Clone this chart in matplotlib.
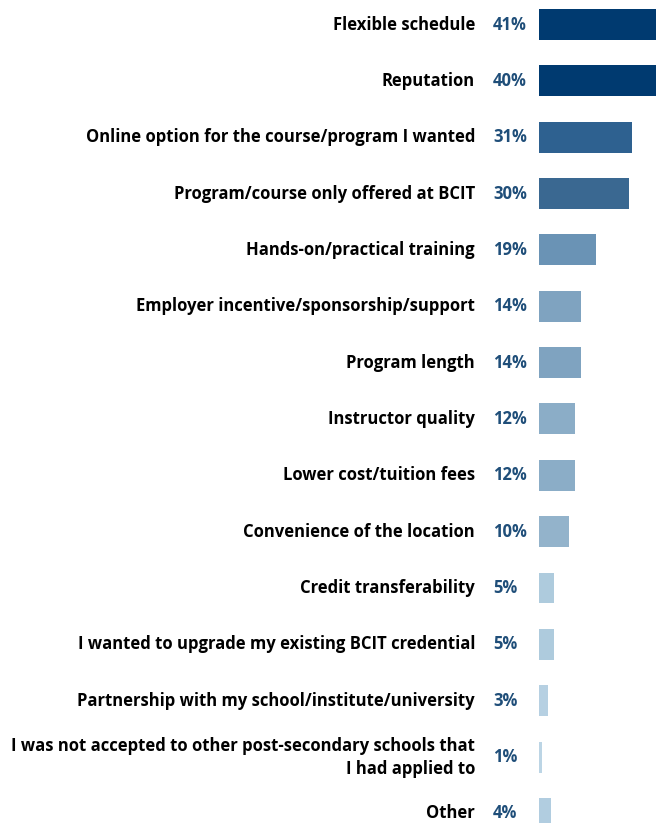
import matplotlib
matplotlib.use("Agg")
import matplotlib.pyplot as plt

categories = [
    "Flexible schedule",
    "Reputation",
    "Online option for the course/program I wanted",
    "Program/course only offered at BCIT",
    "Hands-on/practical training",
    "Employer incentive/sponsorship/support",
    "Program length",
    "Instructor quality",
    "Lower cost/tuition fees",
    "Convenience of the location",
    "Credit transferability",
    "I wanted to upgrade my existing BCIT credential",
    "Partnership with my school/institute/university",
    "I was not accepted to other post-secondary schools that\nI had applied to",
    "Other",
]
values = [41, 40, 31, 30, 19, 14, 14, 12, 12, 10, 5, 5, 3, 1, 4]
colors = ["#003A70", "#003A70", "#2E6190", "#3A6891", "#6A93B5", "#7FA3C0",
          "#7FA3C0", "#8BADC7", "#8BADC7", "#93B3CB", "#AECBDD", "#AECBDD",
          "#B6D0E2", "#BCD5E5", "#B1CDE0"]

W, H = 656, 823
fig = plt.figure(figsize=(W / 100, H / 100), dpi=100)
ax = fig.add_axes([539 / W, 0, 1 - 539 / W, 1])

ypos = list(range(len(values)))
ax.barh(ypos, values, height=0.55, color=colors)
ax.set_xlim(0, 117 / 3.0)
ax.set_ylim((H - 24.5) / 56.35, -24.5 / 56.35)
ax.axis("off")

for y, cat, v in zip(ypos, categories, values):
    ax.annotate(cat, xy=(0, y), xytext=(-64, 0), textcoords="offset pixels",
                ha="right", va="center", fontsize=12, fontweight="bold",
                family="Open Sans", color="black", linespacing=1.35,
                annotation_clip=False)
    ax.annotate(f"{v}%", xy=(0, y), xytext=(-46, 0), textcoords="offset pixels",
                ha="left", va="center", fontsize=12, fontweight="bold",
                family="Open Sans", color="#1F4E79", annotation_clip=False)

fig.savefig("out.png", dpi=100)
